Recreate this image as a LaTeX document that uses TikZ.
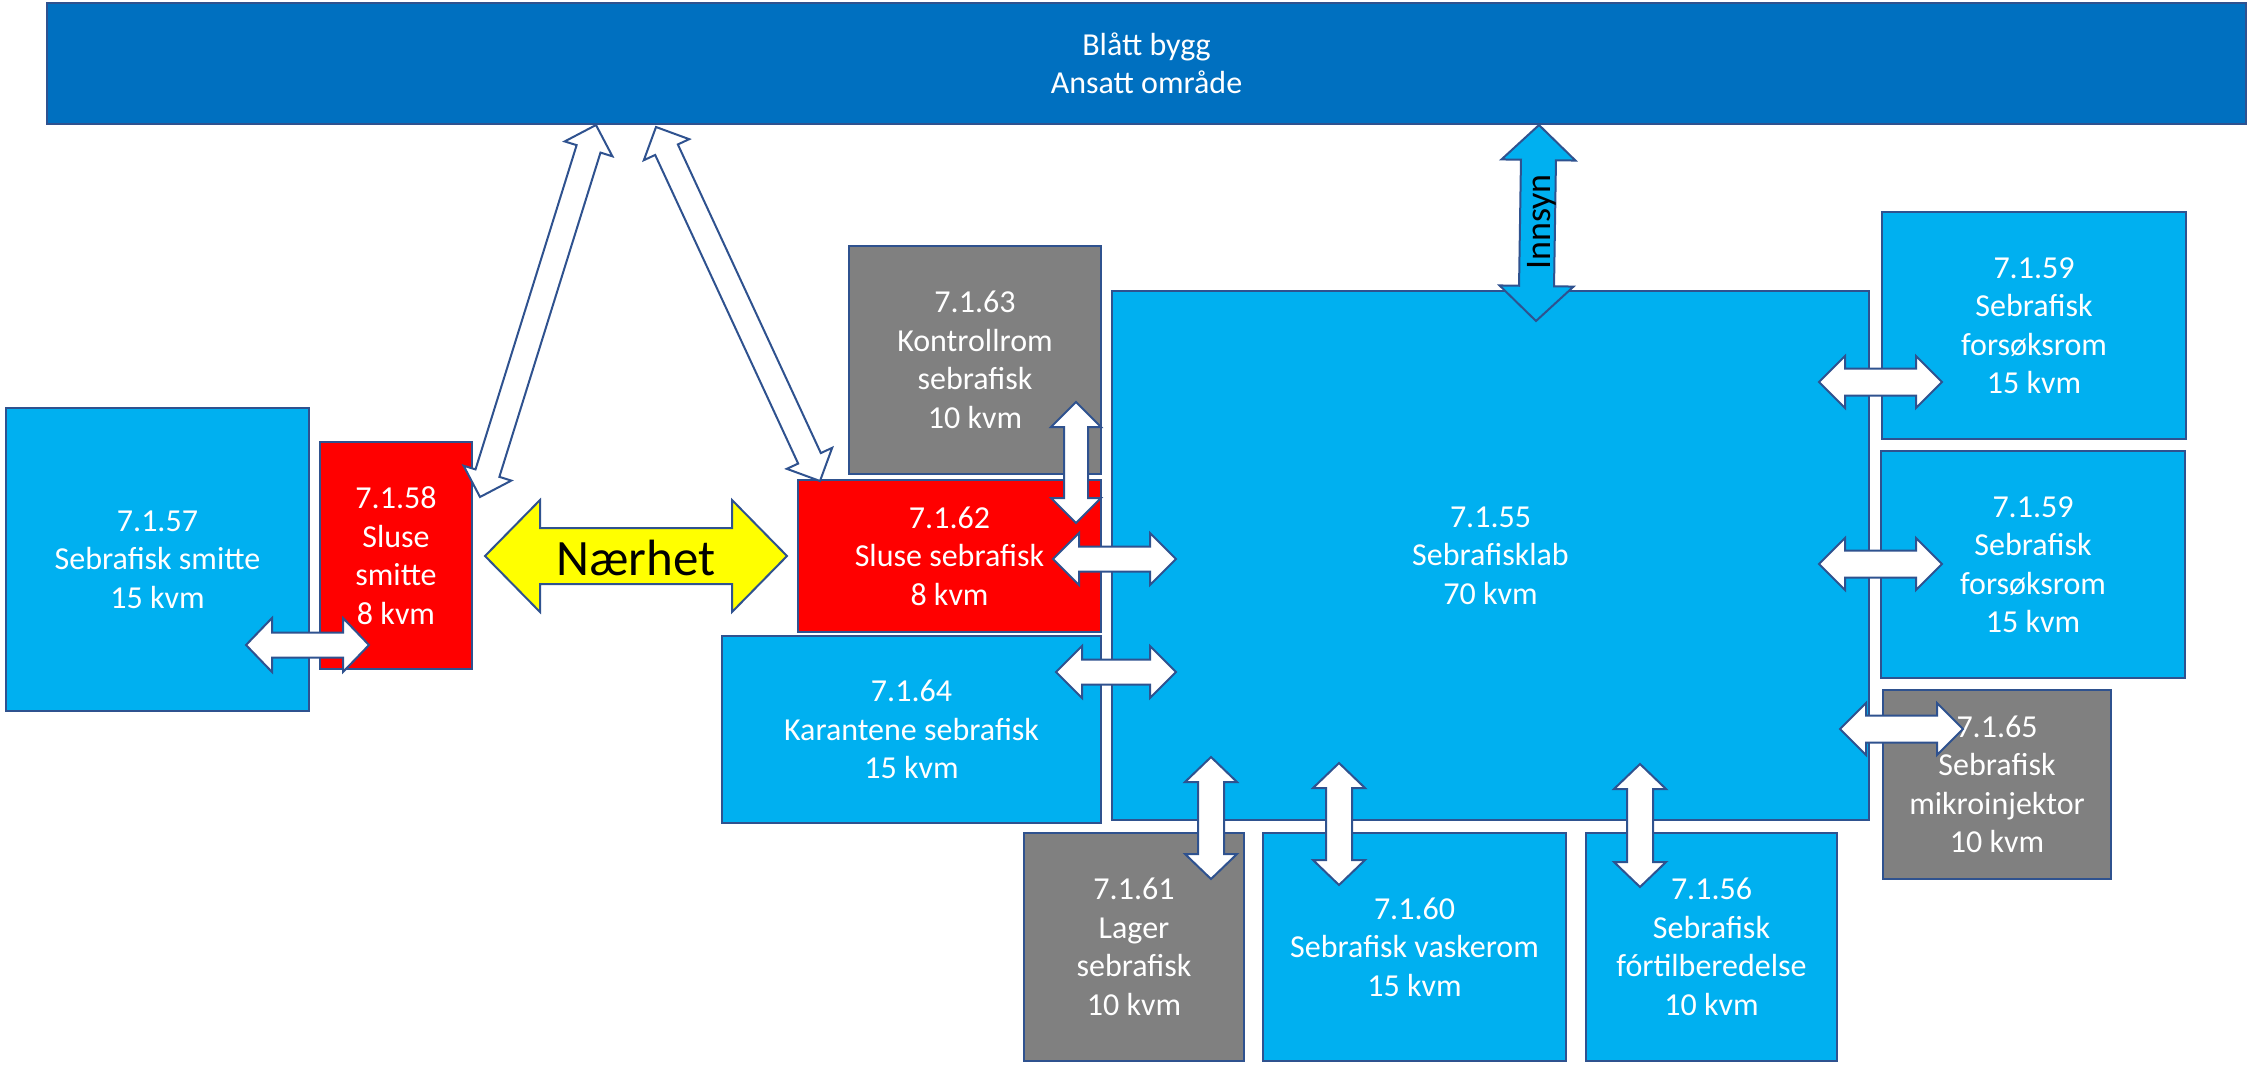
\documentclass[tikz,border=0pt]{standalone}
\usepackage{fontspec}
\setmainfont{Carlito}
\usetikzlibrary{calc}
\definecolor{lb}{HTML}{00B0F0}
\definecolor{db}{HTML}{0070C0}
\definecolor{rd}{HTML}{FF0000}
\definecolor{gr}{HTML}{808080}
\definecolor{yl}{HTML}{FFFF00}
\definecolor{bord}{HTML}{2F528F}
\newcommand\roomfont{\fontsize{32}{38.5}\selectfont}
\newcommand\blockarrow[6][]{%
 \draw[barrow,#1] (#2) -- ($(#2)!#6!(#3)!#5!90:(#3)$) -- ($(#2)!#6!(#3)!#4!90:(#3)$)
  -- ($(#3)!#6!(#2)!#4!-90:(#2)$) -- ($(#3)!#6!(#2)!#5!-90:(#2)$) -- (#3)
  -- ($(#3)!#6!(#2)!#5!90:(#2)$) -- ($(#3)!#6!(#2)!#4!90:(#2)$)
  -- ($(#2)!#6!(#3)!#4!-90:(#3)$) -- ($(#2)!#6!(#3)!#5!-90:(#3)$) -- cycle;}
\tikzset{
 room/.style={draw=bord, line width=2.2pt, text=white, align=center, inner sep=0pt, font=\roomfont},
 barrow/.style={draw=bord, line width=2pt, fill=white, line join=miter},
}
\begin{document}
\begin{tikzpicture}[x=1pt,y=-1pt]
\useasboundingbox (0,0) rectangle (2248,1066);
% boxes
\node[room, fill=db, minimum width=2199, minimum height=121] (bar) at (1146.5,63.5) {Blått bygg\\Ansatt område};
\node[room, fill=lb, minimum width=303, minimum height=303] (n57) at (157.5,559.5) {7.1.57\\Sebrafisk smitte\\15 kvm};
\node[room, fill=rd, minimum width=152, minimum height=227] (n58) at (396,555.5) {7.1.58\\Sluse\\smitte\\8 kvm};
\node[room, fill=gr, minimum width=252, minimum height=228] (n63) at (975,360) {7.1.63\\Kontrollrom\\sebrafisk\\10 kvm};
\node[room, fill=rd, minimum width=303, minimum height=152] (n62) at (949.5,556) {7.1.62\\Sluse sebrafisk\\8 kvm};
\node[room, fill=lb, minimum width=379, minimum height=187] (n64) at (911.5,729.5) {7.1.64\\Karantene sebrafisk\\15 kvm};
\node[room, fill=lb, minimum width=757, minimum height=529] (n55) at (1490.5,555.5) {7.1.55\\Sebrafisklab\\70 kvm};
\node[room, fill=lb, minimum width=304, minimum height=227] (n59a) at (2034,325.5) {7.1.59\\Sebrafisk\\forsøksrom\\15 kvm};
\node[room, fill=lb, minimum width=304, minimum height=227] (n59b) at (2033,564.5) {7.1.59\\Sebrafisk\\forsøksrom\\15 kvm};
\node[room, fill=gr, minimum width=228, minimum height=189] (n65) at (1997,784.5) {7.1.65\\Sebrafisk\\mikroinjektor\\10 kvm};
\node[room, fill=gr, minimum width=220, minimum height=228] (n61) at (1134,947) {7.1.61\\Lager\\sebrafisk\\10 kvm};
\node[room, fill=lb, minimum width=303, minimum height=228] (n60) at (1414.5,947) {7.1.60\\Sebrafisk vaskerom\\15 kvm};
\node[room, fill=lb, minimum width=251, minimum height=228] (n56) at (1711.5,947) {7.1.56\\Sebrafisk\\fórtilberedelse\\10 kvm};
% arrow end points
\coordinate (a1s) at (246,645);  \coordinate (a1e) at (369,645);
\coordinate (d1s) at (596,125);  \coordinate (d1e) at (480,497);
\coordinate (d2s) at (656,127);  \coordinate (d2e) at (820,481);
\coordinate (v1s) at (1076,402); \coordinate (v1e) at (1076,523);
\coordinate (h62s) at (1053,559); \coordinate (h62e) at (1176,559);
\coordinate (h64s) at (1056,672); \coordinate (h64e) at (1176,672);
\coordinate (h59as) at (1819,382); \coordinate (h59ae) at (1942,382);
\coordinate (h59bs) at (1819,564); \coordinate (h59be) at (1942,564);
\coordinate (h65s) at (1840,729); \coordinate (h65e) at (1963,729);
\coordinate (v61s) at (1211,757); \coordinate (v61e) at (1211,879);
\coordinate (v60s) at (1339,763); \coordinate (v60e) at (1339,885);
\coordinate (v56s) at (1640,764); \coordinate (v56e) at (1640,887);
\coordinate (ins) at (1539,125); \coordinate (ine) at (1536,321);
\coordinate (nas) at (485,556); \coordinate (nae) at (787,556);
% arrows
\blockarrow{a1s}{a1e}{12.5pt}{27pt}{26pt}
\blockarrow{d1s}{d1e}{12.5pt}{25pt}{25pt}
\blockarrow{d2s}{d2e}{12.5pt}{25pt}{25pt}
\blockarrow{v1s}{v1e}{12pt}{25pt}{25pt}
\blockarrow{h62s}{h62e}{12.5pt}{26pt}{26pt}
\blockarrow{h64s}{h64e}{12.5pt}{26pt}{26pt}
\blockarrow{h59as}{h59ae}{13.5pt}{26pt}{26pt}
\blockarrow{h59bs}{h59be}{13.5pt}{26pt}{26pt}
\blockarrow{h65s}{h65e}{13.5pt}{26pt}{26pt}
\blockarrow{v61s}{v61e}{13pt}{26pt}{25pt}
\blockarrow{v60s}{v60e}{13pt}{26pt}{25pt}
\blockarrow{v56s}{v56e}{13pt}{26pt}{25pt}
\blockarrow[fill=lb]{ins}{ine}{17.5pt}{37pt}{35pt}
\blockarrow[fill=yl]{nas}{nae}{28pt}{56pt}{55pt}
\node[rotate=90, font=\fontsize{36}{40}\selectfont, inner sep=0pt] (innsyn) at (1542,222) {Innsyn};
\node[font=\fontsize{51}{56}\selectfont, inner sep=0pt] (naerhet) at (636,558) {Nærhet};
\end{tikzpicture}
\end{document}
